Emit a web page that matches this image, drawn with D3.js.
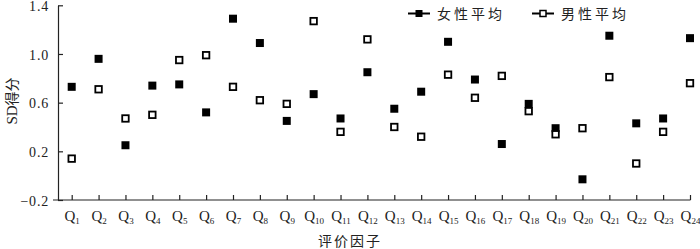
<!DOCTYPE html>
<html>
<head>
<meta charset="utf-8">
<script src="https://cdn.jsdelivr.net/npm/d3@7"></script>
<style>
  body { margin: 0; background: #fff; }
  svg { display: block; }
</style>
</head>
<body>
<script>
const w = 700;
const h = 249;

// data
const factors = ["Q1", "Q2", "Q3", "Q4", "Q5", "Q6", "Q7", "Q8", "Q9", "Q10", "Q11", "Q12",
  "Q13", "Q14", "Q15", "Q16", "Q17", "Q18", "Q19", "Q20", "Q21", "Q22", "Q23", "Q24"];
const femaleAvg = [0.73, 0.96, 0.25, 0.74, 0.75, 0.52, 1.29, 1.09, 0.45, 0.67, 0.47, 0.85,
  0.55, 0.69, 1.10, 0.79, 0.26, 0.59, 0.39, -0.03, 1.15, 0.43, 0.47, 1.13];
const maleAvg = [0.14, 0.71, 0.47, 0.50, 0.95, 0.99, 0.73, 0.62, 0.59, 1.27, 0.36, 1.12,
  0.40, 0.32, 0.83, 0.64, 0.82, 0.53, 0.34, 0.39, 0.81, 0.10, 0.36, 0.76];
const yTicks = [-0.2, 0.2, 0.6, 1.0, 1.4];

const serif = "'Liberation Serif', 'Times New Roman', serif";
const cjk = "'Noto Sans CJK SC', sans-serif";
const ink = "#222";

const svg = d3.select("body").append("svg")
  .attr("width", w)
  .attr("height", h);

// * SCALES
const xScale = d3.scalePoint()
  .domain(factors)
  .range([71.7, 690]);
const yScale = d3.scaleLinear()
  .domain([-0.2, 1.4])
  .range([200, 5.3]);

// * AXES
const yAxis = d3.axisLeft(yScale)
  .tickValues(yTicks)
  .tickSizeInner(-5)
  .tickSizeOuter(0)
  .tickPadding(9)
  .tickFormat(d => d < 0 ? "\u2212" + Math.abs(d).toFixed(1) : d.toFixed(1));
const gy = svg.append("g")
  .attr("transform", "translate(58,0)")
  .call(yAxis);
gy.select(".domain").attr("stroke", ink).attr("stroke-width", 1.2);
gy.selectAll(".tick line").attr("stroke", ink).attr("stroke-width", 1.2);
gy.selectAll(".tick text")
  .attr("fill", ink)
  .attr("font-family", serif)
  .attr("font-size", 14)
  .attr("letter-spacing", 0.8)
  .attr("dy", "0.36em");

const xAxis = d3.axisBottom(xScale)
  .tickSizeInner(-5)
  .tickSizeOuter(0)
  .tickPadding(10.5);
const gx = svg.append("g")
  .attr("transform", "translate(0,200)")
  .call(xAxis);
gx.select(".domain").remove();
gx.append("line")
  .attr("x1", 53).attr("x2", 690.5)
  .attr("stroke", ink).attr("stroke-width", 1.2);
gx.selectAll(".tick line").attr("stroke", ink).attr("stroke-width", 1.2);
gx.selectAll(".tick text")
  .attr("fill", ink)
  .attr("font-family", serif)
  .attr("font-size", 15)
  .text(null)
  .each(function (d) {
    const t = d3.select(this);
    t.append("tspan").text("Q");
    t.append("tspan").attr("font-size", 9).attr("dy", 3).text(d.slice(1));
  });

// * AXIS TITLES
svg.append("text")
  .attr("x", 350).attr("y", 246)
  .attr("text-anchor", "middle")
  .attr("font-family", cjk)
  .attr("font-size", 14)
  .attr("letter-spacing", 2)
  .attr("fill", ink)
  .text("评价因子");

const yt = svg.append("text")
  .attr("transform", "translate(17,101) rotate(-90)")
  .attr("text-anchor", "middle")
  .attr("fill", ink)
  .attr("font-size", 15);
yt.append("tspan").attr("font-family", serif).text("SD");
yt.append("tspan").attr("font-family", cjk).attr("font-size", 14).text("得分");

// * POINTS
const s = 8;
svg.selectAll("rect.female")
  .data(femaleAvg)
  .enter()
  .append("rect")
  .attr("class", "female")
  .attr("x", (d, i) => xScale(factors[i]) - s / 2)
  .attr("y", d => yScale(d) - s / 2)
  .attr("width", s)
  .attr("height", s)
  .attr("fill", "#000");

svg.selectAll("rect.male")
  .data(maleAvg)
  .enter()
  .append("rect")
  .attr("class", "male")
  .attr("x", (d, i) => xScale(factors[i]) - s / 2 + 0.75)
  .attr("y", d => yScale(d) - s / 2 + 0.75)
  .attr("width", s - 1.5)
  .attr("height", s - 1.5)
  .attr("fill", "#fff")
  .attr("stroke", "#000")
  .attr("stroke-width", 1.8);

// * LEGEND
const legend = [
  { label: "女性平均", x: 408, filled: true },
  { label: "男性平均", x: 532, filled: false }
];
const lg = svg.selectAll("g.legend")
  .data(legend)
  .enter()
  .append("g")
  .attr("class", "legend")
  .attr("transform", d => "translate(" + d.x + ",13.5)");
lg.append("line")
  .attr("x1", 0).attr("x2", 22)
  .attr("stroke", "#000").attr("stroke-width", 2);
lg.append("rect")
  .attr("x", d => d.filled ? 7.5 : 8)
  .attr("y", d => d.filled ? -3.5 : -3)
  .attr("width", d => d.filled ? 7 : 6)
  .attr("height", d => d.filled ? 7 : 6)
  .attr("fill", d => d.filled ? "#000" : "#fff")
  .attr("stroke", d => d.filled ? "none" : "#000")
  .attr("stroke-width", 1.5);
lg.append("text")
  .attr("x", 29).attr("y", 5)
  .attr("font-family", cjk)
  .attr("font-size", 14)
  .attr("letter-spacing", 3)
  .attr("fill", ink)
  .text(d => d.label);
</script>
</body>
</html>
